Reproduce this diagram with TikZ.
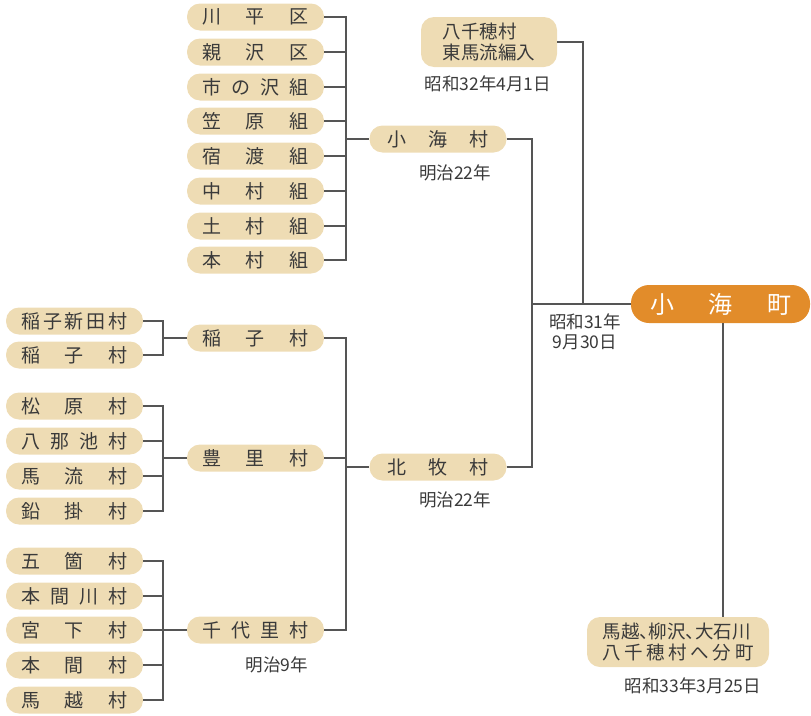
\documentclass[tikz,border=0pt]{standalone}
\usepackage{fontspec}
\setmainfont{Noto Sans CJK JP}
\definecolor{boxfill}{HTML}{EEDCB4}
\definecolor{orng}{HTML}{E28C2A}
\definecolor{txt}{HTML}{3A3A3A}
\definecolor{ln}{HTML}{555555}
\newcommand\jj[1]{\makebox[106pt]{#1}}
\newcommand\jm[1]{\makebox[101pt]{#1}}
\begin{document}
\begin{tikzpicture}[x=1pt,y=-1pt,
  box/.style={fill=boxfill,rounded corners=13pt,minimum width=137pt,minimum height=27pt,inner sep=0pt,text=txt,font=\fontsize{19}{22}\selectfont},
  bigbox/.style={fill=orng,rounded corners=18pt,minimum width=179pt,minimum height=38pt,inner sep=0pt,text=white,font=\fontsize{24}{28}\selectfont},
  twobox/.style={fill=boxfill,rounded corners=13pt,inner sep=0pt,text=txt,font=\fontsize{18.5}{21}\selectfont,align=left},
  date/.style={text=txt,inner sep=0pt,font=\fontsize{17.5}{20}\selectfont,align=center},
  line/.style={draw=ln,line width=1.1pt}]
\useasboundingbox (0,0) rectangle (811,715);
% top group
\node[box] (t1) at (255.5,17) {\jj{川\hfill 平\hfill 区}};
\node[box] (t2) at (255.5,52) {\jj{親\hfill 沢\hfill 区}};
\node[box] (t3) at (255.5,87) {\jj{市\hfill の\hfill 沢\hfill 組}};
\node[box] (t4) at (255.5,121) {\jj{笠\hfill 原\hfill 組}};
\node[box] (t5) at (255.5,156) {\jj{宿\hfill 渡\hfill 組}};
\node[box] (t6) at (255.5,191) {\jj{中\hfill 村\hfill 組}};
\node[box] (t7) at (255.5,226) {\jj{土\hfill 村\hfill 組}};
\node[box] (t8) at (255.5,260) {\jj{本\hfill 村\hfill 組}};
\coordinate (jA) at (346,139);
\node[box] (komi) at (438,139) {\jm{小\hfill 海\hfill 村}};
\node[date] (d1) at (455,173) {明治22年};
% left groups
\node[box] (l1) at (74.5,321) {\jj{稲\hfill 子\hfill 新\hfill 田\hfill 村}};
\node[box] (l2) at (74.5,355) {\jj{稲\hfill 子\hfill 村}};
\node[box] (inako) at (255.5,338) {\jj{稲\hfill 子\hfill 村}};
\node[box] (l3) at (74.5,406) {\jj{松\hfill 原\hfill 村}};
\node[box] (l4) at (74.5,441) {\jj{八\hfill 那\hfill 池\hfill 村}};
\node[box] (l5) at (74.5,476) {\jj{馬\hfill 流\hfill 村}};
\node[box] (l6) at (74.5,511) {\jj{鉛\hfill 掛\hfill 村}};
\node[box] (toyo) at (255.5,458) {\jj{豊\hfill 里\hfill 村}};
\node[box] (l7) at (74.5,561) {\jj{五\hfill 箇\hfill 村}};
\node[box] (l8) at (74.5,596) {\jj{本\hfill 間\hfill 川\hfill 村}};
\node[box] (l9) at (74.5,630) {\jj{宮\hfill 下\hfill 村}};
\node[box] (l10) at (74.5,665) {\jj{本\hfill 間\hfill 村}};
\node[box] (l11) at (74.5,700) {\jj{馬\hfill 越\hfill 村}};
\node[box] (chiyo) at (255.5,630) {\jj{千\hfill 代\hfill 里\hfill 村}};
\node[date] (d3) at (277,665) {明治9年};
\coordinate (jB) at (346,467);
\node[box] (kita) at (438,467) {\jm{北\hfill 牧\hfill 村}};
\node[date] (d2) at (455,500) {明治22年};
% right
\node[twobox,minimum width=136pt,minimum height=50pt] (yachi) at (489,42) {八千穂村\\東馬流編入};
\node[date] (d4) at (488,84) {昭和32年4月1日};
\coordinate (jC) at (532,304);
\coordinate (jD) at (583,304);
\node[bigbox] (koumi) at (720.5,304) {\makebox[141pt]{小\hfill 海\hfill 町}};
\node[date] (d5) at (585,332) {昭和31年\\9月30日};
\node[twobox,minimum width=182pt,minimum height=50pt] (bun) at (678,642) {\addfontfeatures{RawFeature=+palt}馬越、柳沢、大石川\\\makebox[151pt]{八\hfill 千\hfill 穂\hfill 村\hfill へ\hfill 分\hfill 町}};
\node[date] (d6) at (693,686) {昭和33年3月25日};
% connectors
\foreach \n in {t1,t2,t3,t4,t5,t6,t7,t8} \draw[line] (\n.east) -| (jA);
\draw[line] (jA) -- (komi.west);
\coordinate (jE) at (163,338);
\draw[line] (l1.east) -| (jE);
\draw[line] (l2.east) -| (jE);
\draw[line] (jE) -- (inako.west);
\coordinate (jF) at (163,458);
\foreach \n in {l3,l4,l5,l6} \draw[line] (\n.east) -| (jF);
\draw[line] (jF) -- (toyo.west);
\coordinate (jG) at (163,630);
\foreach \n in {l7,l8,l9,l10,l11} \draw[line] (\n.east) -| (jG);
\draw[line] (jG) -- (chiyo.west);
\draw[line] (inako.east) -| (jB);
\draw[line] (chiyo.east) -| (jB);
\draw[line] (toyo.east) -- (toyo.east -| jB);
\draw[line] (jB) -- (kita.west);
\draw[line] (komi.east) -| (jC);
\draw[line] (kita.east) -| (jC);
\draw[line] (jC) -- (koumi.west);
\draw[line] (yachi.east) -| (jD);
\draw[line] (koumi.south -| 723,0) -- (bun.north -| 723,0);
\end{tikzpicture}
\end{document}
